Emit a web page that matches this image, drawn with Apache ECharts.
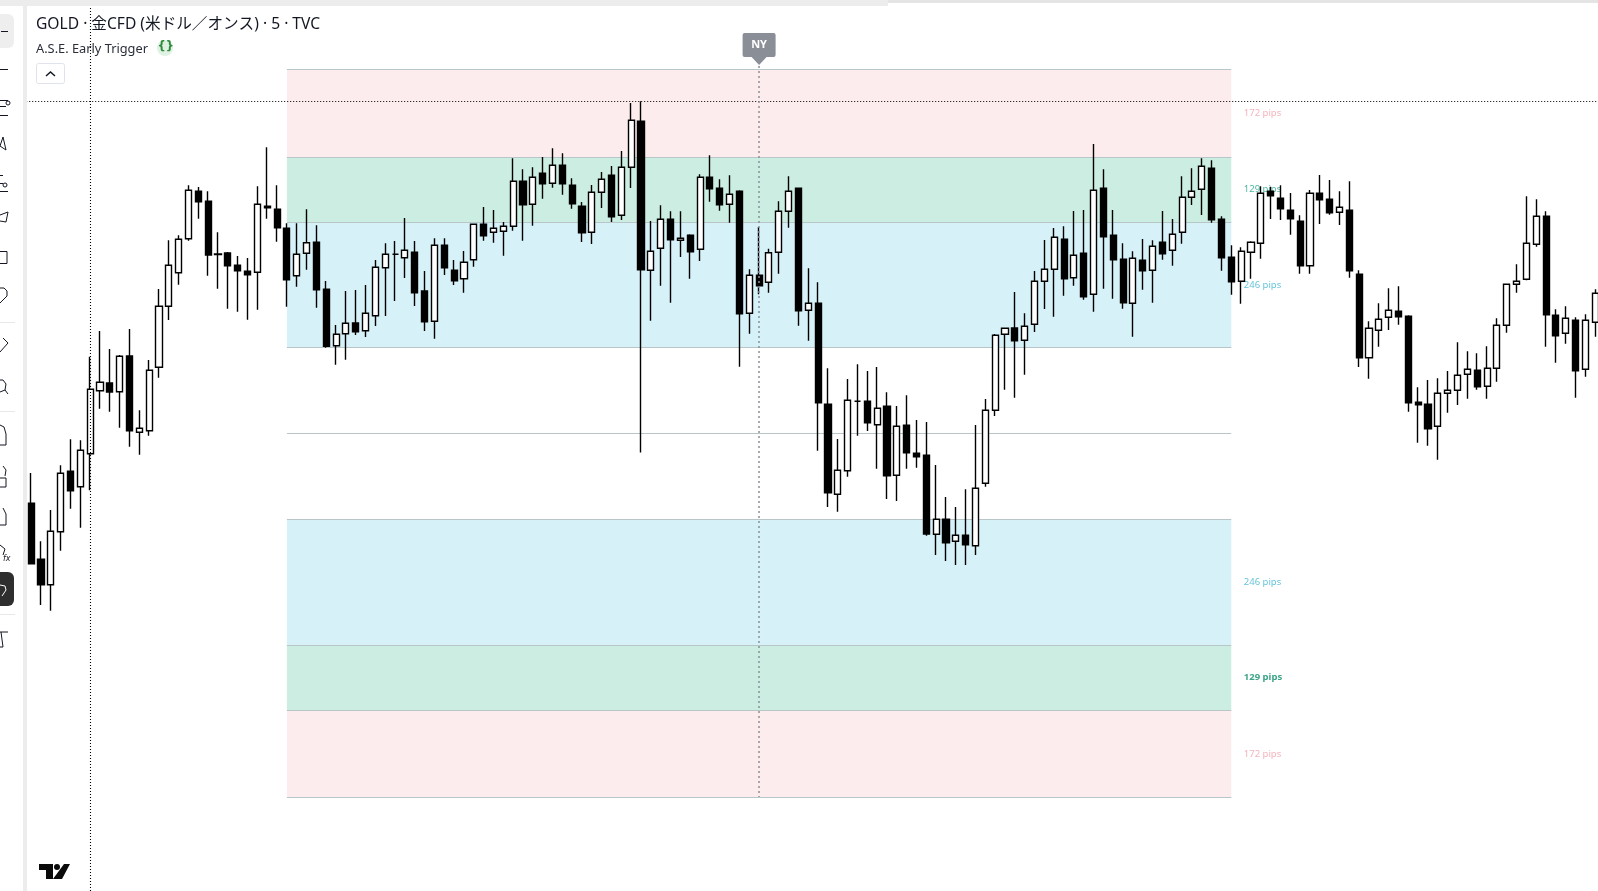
<!DOCTYPE html>
<html>
<head>
<meta charset="utf-8">
<title>GOLD 5</title>
<script src="https://cdn.jsdelivr.net/npm/echarts@6/dist/echarts.min.js"></script>
<style>
html, body { margin: 0; padding: 0; background: #fff; }
#main { width: 1598px; height: 891px; }
</style>
</head>
<body>
<div id="main"></div>
<script>
// prices are in chart points (1 point is about 2 pips)
var opens = [
    496.7, 440.7, 415.3, 468.3, 528.7, 513.3, 546.3, 609.3, 617, 608.3,
    644, 567.7, 569.3, 632.7, 693.7, 727.3, 761.3, 808.7, 798.7, 746,
    747, 734.7, 728.7, 727.7, 793.7, 790.7, 771.7, 724.3, 746.7, 757.7,
    710.7, 654.3, 666.3, 677, 669.3, 684.3, 732.3, 745.7, 742.3, 747.7,
    709, 678.7, 754.7, 729.7, 721.3, 740.3, 775.7, 767.7, 768.7, 773.7,
    818.7, 795.7, 826.7, 816.7, 834.7, 814.7, 793.7, 767.7, 807.7, 824.7,
    784.7, 832.7, 878.7, 729.7, 751.7, 780.7, 759.7, 764.7, 750.7, 822.7,
    811.7, 795.7, 808.7, 686.7, 724.7, 717.7, 747.7, 788.7, 811.7, 689.7,
    696.7, 595.7, 505.7, 529.3, 598.7, 598.7, 575.3, 593.7, 524.7, 574.7,
    546.7, 544.7, 465.7, 480.7, 458.7, 464.7, 454.3, 516.7, 589.7, 665.7,
    672, 659.7, 675.7, 718.7, 730.7, 760.7, 722.3, 746.7, 705.7, 811.7,
    764.7, 740.7, 696.7, 739.7, 729.7, 757.7, 749.7, 767.7, 802.7, 810.7,
    831.7, 780.7, 742.7, 718.7, 747.7, 756.7, 808.7, 801.7, 789.7, 778.7,
    734.3, 806.7, 800.7, 787.7, 789.7, 725.7, 642.3, 669.7, 682.7, 688.7,
    683.7, 597.7, 595.7, 573.7, 606.7, 609.7, 625.7, 629.7, 613.7, 631.7,
    674.7, 715.7, 720.7, 755.7, 783.7, 684.7, 666.7, 679.7, 630.7, 677.7
];
var closes = [
    436.3, 415.3, 468.7, 526.7, 509.3, 549.7, 610.7, 617.7, 608, 643.7,
    569.3, 571.7, 629.7, 693.7, 734.7, 760.7, 809.7, 798.3, 745, 745.5,
    734.3, 729.3, 725.3, 795.7, 792.3, 772.3, 720.3, 745.7, 757.3, 710.3,
    653.7, 665.7, 676.7, 668.3, 686.7, 732.7, 745.7, 745.7, 749.7, 707.3,
    678.3, 754.7, 732.3, 719.3, 737.7, 775.7, 764.3, 771.7, 773.7, 818.7,
    795.3, 822.7, 816.3, 834.7, 816.3, 796.3, 767.3, 807.7, 820.7, 783.3,
    832.7, 879.7, 730.3, 748.7, 780.7, 760.3, 761.7, 748.3, 822.7, 811.3,
    795.3, 805.7, 686.3, 724.7, 714.3, 747.3, 788.7, 808.7, 689.3, 696.7,
    597.3, 507.3, 529.7, 599.7, 598.7, 577.3, 591.7, 524.3, 573.7, 547.3,
    543.3, 466, 480.7, 457.3, 464.7, 455.3, 511.7, 589.7, 664.7, 671.7,
    659.3, 673.7, 718.7, 730.7, 762.7, 721.3, 744.7, 703.3, 809.7, 763.3,
    740.3, 697.3, 741.7, 729.3, 753.7, 746.3, 765.7, 802.7, 808.7, 833.7,
    780.3, 742.3, 718.3, 748.7, 757.7, 806.7, 804.3, 791.3, 781.3, 734.3,
    806.7, 800.3, 787.3, 792.7, 729.3, 642.3, 671.7, 680.7, 689.7, 683.3,
    597.3, 595.3, 571.3, 606.7, 609.7, 624.7, 630.7, 613.3, 631.7, 674.7,
    715.7, 718.7, 756.7, 783.7, 685.3, 664.3, 681.7, 629.3, 679.7, 706.7
];
var highs = [
    527, 458.7, 490, 534.7, 560.7, 559.7, 643.3, 669, 651, 645,
    671, 589.7, 640, 711, 759.7, 764.7, 814.7, 813, 808.7, 767.7,
    748, 744, 742, 813.7, 852.7, 814.7, 776.7, 776.7, 790.7, 774.7,
    719, 675, 709, 710, 715, 740, 756.7, 759, 782, 759,
    729, 761.7, 761.7, 740, 749, 775.7, 793, 790, 778, 841.7,
    830.7, 832.7, 843, 851.7, 846.7, 821.7, 798, 815, 828, 834,
    849, 897, 898.7, 779, 794.7, 788.7, 788.7, 765.7, 825.7, 844.7,
    820.7, 824.7, 809.7, 730.7, 773, 751.3, 798.7, 823.7, 811.7, 731.7,
    717.7, 631.7, 561, 621, 635.7, 629, 633, 607.7, 594, 604.7,
    580, 578, 535, 503, 493, 510.7, 575, 601, 666, 671.7,
    708, 686.7, 729, 760, 772, 773.7, 789, 790, 856, 830.7,
    790, 756.7, 748.7, 761, 759.7, 789, 781, 823.7, 831.7, 841.7,
    839.7, 783.7, 754.7, 752.7, 758.7, 813.7, 813.3, 814.7, 807, 784.7,
    810, 825, 820, 808.7, 818.7, 729.7, 678.7, 696.7, 711.7, 713.7,
    684.7, 612.7, 620, 621.7, 629, 657.7, 648.7, 646.7, 653.7, 681.7,
    715.7, 735.7, 803.7, 800.7, 788.7, 690.7, 693.7, 682.7, 685.7, 710.7
];
var lows = [
    436.3, 395, 389.3, 449.3, 491.3, 472.3, 509.7, 591.3, 588.3, 572.3,
    553.3, 545.3, 564.3, 622.3, 680, 715.3, 759.3, 781.3, 724.3, 711.3,
    691.3, 688.3, 680.3, 690.3, 781.3, 758.3, 693.3, 713.3, 730.3, 692.3,
    652.3, 635.3, 640.3, 665, 663, 674, 684, 699, 722, 694,
    669, 661.3, 725, 715, 707.3, 733.3, 759.3, 757.3, 744.3, 769.3,
    759.3, 774.3, 801.3, 812.3, 805.3, 791.3, 758, 756, 792, 778,
    780, 812, 547.5, 679.3, 714.3, 697.3, 743, 721.3, 739, 798.3,
    789.3, 777.3, 633.3, 666.3, 705.7, 707.3, 726.3, 772.3, 674.3, 659.3,
    549.3, 493, 488.3, 523.3, 564.3, 569, 531.3, 501, 499, 531.3,
    532.3, 464.3, 445, 439, 435, 435, 445, 513.3, 584, 610.3,
    602.3, 625.3, 668, 691, 683.3, 704.3, 714.3, 700.3, 688.3, 711.3,
    701.3, 691.3, 663.3, 710.3, 697.3, 740.3, 734.3, 756.3, 795, 785,
    777.3, 729.3, 705.3, 696.3, 721.3, 741.3, 781, 780, 765.3, 726.3,
    726.3, 776, 785.3, 775, 722.3, 633, 621.3, 653.3, 670, 675.3,
    588.3, 557.3, 554.3, 540.3, 587.3, 595, 601.3, 610.3, 601.3, 618.3,
    667.3, 707.3, 719.7, 753.3, 653.3, 637.3, 656.3, 602.3, 623.3, 663.3
];

// band edges from the top of the upper red zone to the bottom of the lower one
var zoneLevels = [930.5, 843, 777.7, 652.7, 566.7, 480.3, 355, 290, 203];
var zoneColors = ['#fdecee', '#cbede2', '#d6f1f8', null, null, '#d6f1f8', '#cbede2', '#fdecee'];
var pipTexts = ['172 pips', '129 pips', '246 pips', '246 pips', '129 pips', '172 pips'];
var pipLevels = [887, 810.5, 715, 418, 322.4, 246];
var pipColors = ['#f2a0aa', '#1fa584', '#3db5cf', '#3db5cf', '#0b8f6a', '#f2a0aa'];
var pipWeights = ['normal', 'normal', 'normal', 'normal', 'bold', 'normal'];

var zoneStart = 26;
var zoneEnd = 122;
var nyBar = 74;
var crossBar = 6;
var crossPrice = 898.7;

var categories = opens.map(function (v, i) { return String(i); });
var candles = opens.map(function (v, i) {
    return [opens[i], closes[i], lows[i], highs[i]];
});

var zoneAreas = [];
zoneColors.forEach(function (c, i) {
    if (!c) { return; }
    zoneAreas.push([
        { coord: [zoneStart, zoneLevels[i]], itemStyle: { color: c, opacity: 1 } },
        { coord: [zoneEnd, zoneLevels[i + 1]] }
    ]);
});
var zoneLines = zoneLevels.map(function (v) {
    return [{ coord: [zoneStart, v] }, { coord: [zoneEnd, v] }];
});
var pipPoints = pipTexts.map(function (t, i) {
    return {
        value: [zoneEnd, pipLevels[i]],
        label: { formatter: t, color: pipColors[i], fontWeight: pipWeights[i] }
    };
});

function rect(x, y, w, h, fill, r) {
    return {
        type: 'rect', silent: true, z: 100,
        shape: { x: x, y: y, width: w, height: h, r: r || 0 },
        style: { fill: fill }
    };
}
function stroke(points, color, width) {
    return {
        type: 'polyline', silent: true, z: 102,
        shape: { points: points },
        style: { fill: 'none', stroke: color || '#131722', lineWidth: width || 1 }
    };
}
function solid(points) {
    return {
        type: 'polygon', silent: true, z: 102,
        shape: { points: points },
        style: { fill: '#0a0a0a' }
    };
}
function label(text, x, y, font, color) {
    return {
        type: 'text', silent: true, z: 103, x: x, y: y,
        style: { text: text, font: font, fill: color || '#131722', verticalAlign: 'middle' }
    };
}

var chrome = [
    rect(0, 0, 23, 891, '#ffffff'),
    rect(23, 0, 4, 891, '#ececec'),
    rect(0, 0, 888, 6, '#ececec'),
    rect(888, 0, 710, 3, '#e4e4e4'),
    rect(-6, 14, 20, 34, '#eeeeee', 6),
    rect(-6, 572, 20, 34, '#2e2e2e', 6),
    rect(0, 322, 15, 1, '#e8e8e8'),
    rect(0, 411, 15, 1, '#e8e8e8'),
    rect(0, 614, 15, 1, '#e8e8e8'),
    // toolbar icons, cut off by the window edge
    stroke([[1, 31.5], [8, 31.5]]),
    stroke([[0, 69.5], [8, 69.5]]),
    stroke([[0, 100.5], [8, 100.5]]),
    stroke([[0, 106.5], [6, 106.5]]),
    stroke([[0, 115.5], [8, 115.5]]),
    { type: 'circle', silent: true, z: 102, shape: { cx: 8, cy: 103, r: 2 }, style: { fill: '#fff', stroke: '#131722' } },
    stroke([[3, 137], [0, 146], [6, 150], [3, 137]]),
    stroke([[0, 175.5], [3, 175.5]]),
    stroke([[0, 183.5], [3, 183.5]]),
    stroke([[0, 191.5], [8, 191.5]]),
    { type: 'circle', silent: true, z: 102, shape: { cx: 5, cy: 185, r: 2 }, style: { fill: '#fff', stroke: '#131722' } },
    stroke([[0, 215], [8, 212], [6, 222], [0, 221]]),
    stroke([[0, 251.5], [7, 251.5], [7, 263.5], [0, 263.5]]),
    stroke([[0, 288], [4, 288], [7, 291], [7, 296], [0, 303]]),
    stroke([[3, 338], [8, 343], [0, 352]]),
    stroke([[0, 380], [3, 380], [6, 384], [5, 390], [0, 392]]),
    stroke([[5, 390], [8, 394]]),
    stroke([[0, 425], [4, 427], [6, 434], [6, 445], [0, 445]]),
    stroke([[3, 466], [6, 470], [5, 476]]),
    stroke([[0, 478], [6, 478], [6, 487], [0, 487]]),
    stroke([[3, 508], [6, 514], [6, 525], [0, 525]]),
    stroke([[0, 545], [5, 549], [3, 555]]),
    label('fx', 3, 559, 'italic 8px "DejaVu Sans"', '#131722'),
    stroke([[0, 585], [5, 586], [6, 590], [2, 596]], '#ffffff'),
    stroke([[0, 632], [8, 632]]),
    stroke([[1, 632], [3, 647], [0, 647]]),
    // legend rows
    label('GOLD · 金CFD (米ドル／オンス) · 5 · TVC', 36, 25, '15.6px "Noto Sans", "Noto Sans CJK JP"', '#131722'),
    label('A.S.E. Early Trigger', 36, 49, '12.8px "Noto Sans"', '#2a2e39'),
    { type: 'circle', silent: true, z: 101, shape: { cx: 165, cy: 48, r: 8 }, style: { fill: '#dff1e2' } },
    label('{}', 157.5, 47.5, 'bold 11.5px "DejaVu Sans"', '#2e8b3d'),
    {
        type: 'rect', silent: true, z: 101,
        shape: { x: 36.5, y: 63.5, width: 28, height: 20, r: 2 },
        style: { fill: '#ffffff', stroke: '#e0e3eb', lineWidth: 1 }
    },
    stroke([[46, 76], [50.5, 72], [55, 76]], '#131722', 1.5),
    // logo
    solid([[39, 864], [53, 864], [53, 879], [46, 879], [46, 870], [39, 870]]),
    solid([[64, 864], [70, 864], [62, 879], [53, 879]]),
    { type: 'circle', silent: true, z: 102, shape: { cx: 57, cy: 867, r: 3 }, style: { fill: '#0a0a0a' } }
];

var myChart = echarts.init(document.getElementById('main'));

var option = {
    animation: false,
    grid: { left: 26.2, top: 0, width: 1574, height: 891, outerBoundsMode: 'none' },
    xAxis: {
        type: 'category',
        data: categories,
        show: false
    },
    yAxis: {
        type: 'value',
        min: 109,
        max: 1000,
        show: false,
        splitLine: { show: false }
    },
    graphic: chrome,
    series: [{
        // the bands sit under the candles
        name: 'zones',
        type: 'line',
        data: [],
        silent: true,
        z: 1,
        markArea: { silent: true, z: 1, data: zoneAreas },
        markLine: {
            silent: true,
            z: 1,
            symbol: 'none',
            label: { show: false },
            lineStyle: { color: '#b9c6c8', type: 'solid', width: 1 },
            data: zoneLines
        }
    }, {
        name: 'pips',
        type: 'scatter',
        symbolSize: 1,
        silent: true,
        z: 2,
        itemStyle: { color: 'transparent' },
        label: {
            show: true,
            position: 'right',
            distance: 12,
            fontSize: 9.5,
            fontFamily: 'Noto Sans'
        },
        data: pipPoints
    }, {
        name: 'GOLD',
        type: 'candlestick',
        barWidth: 6.6,
        z: 3,
        itemStyle: {
            color: '#ffffff',
            color0: '#000000',
            borderColor: '#000000',
            borderColor0: '#000000',
            borderWidth: 1.4
        },
        data: candles,
        markLine: {
            silent: true,
            z: 5,
            symbol: 'none',
            label: { show: false },
            data: [
                { yAxis: crossPrice, lineStyle: { color: '#000000', type: [1, 2], width: 1.1 } },
                { xAxis: crossBar, lineStyle: { color: '#000000', type: [1, 2], width: 1.1 } },
                [
                    { coord: [nyBar, 934], lineStyle: { color: '#8a8e96', type: [2, 3], width: 1.5 } },
                    { coord: [nyBar, zoneLevels[8]] }
                ]
            ]
        },
        markPoint: {
            silent: true,
            z: 6,
            data: [{
                coord: [nyBar, 951],
                symbol: 'path://M2 0H31Q33 0 33 2V22Q33 24 31 24H24L16.5 32L9 24H2Q0 24 0 22V2Q0 0 2 0Z',
                symbolSize: [33, 32],
                itemStyle: { color: '#8a8e96' },
                label: {
                    show: true,
                    formatter: 'NY',
                    color: '#ffffff',
                    fontSize: 11,
                    fontWeight: 'bold',
                    fontFamily: 'Noto Sans',
                    position: 'inside',
                    offset: [0, -4]
                }
            }]
        }
    }]
};

myChart.setOption(option);
</script>
</body>
</html>
